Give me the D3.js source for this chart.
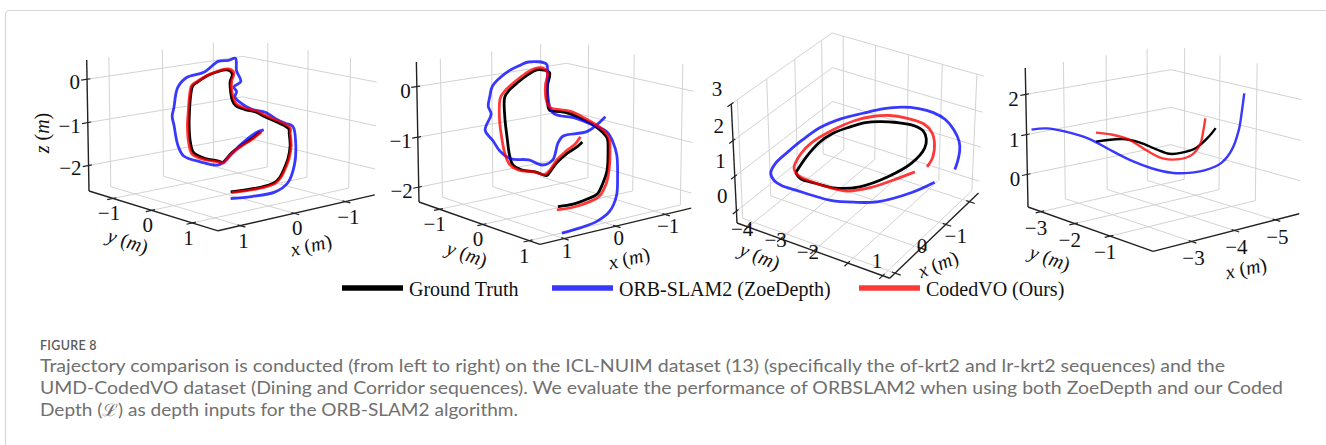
<!DOCTYPE html>
<html>
<head>
<meta charset="utf-8">
<script src="https://cdn.jsdelivr.net/npm/d3@7"></script>
<style>
  body { margin: 0; background: #fff; }
  svg { display: block; }
</style>
</head>
<body>
<svg id="fig" width="1326" height="445"></svg>
<script>
// ---------- data (metres) ----------
// panel 1 : ICL-NUIM of-kt2
const p1Truth = [[0.32,0.5,-2.33],[-0.25,0.5,-2.37],[-0.52,0.5,-2.33],[-0.63,0.5,-2.23],[-0.71,0.5,-2.06],[-0.79,0.5,-1.83],[-0.83,0.5,-1.54],[-0.81,0.5,-1.26],[-0.80,0.5,-1.14],[-0.70,0.5,-1.04],[-0.52,0.5,-0.90],[-0.33,0.5,-0.76],[-0.14,0.5,-0.61],[0.05,0.5,-0.52],[0.23,0.5,-0.39],[0.29,0.5,-0.26],[0.32,0.5,-0.07],[0.33,0.5,0.16],[0.29,0.5,0.33],[0.38,0.5,0.43],[0.70,0.5,0.39],[0.92,0.5,0.27],[1.01,0.5,0.20],[1.05,0.5,-0.01],[1.07,0.5,-0.30],[1.08,0.5,-0.66],[1.06,0.5,-1.02],[1.00,0.5,-1.28],[0.79,0.5,-1.46],[0.55,0.5,-1.57],[0.47,0.5,-1.62],[0.31,0.5,-1.45],[0.12,0.5,-1.32],[-0.06,0.5,-1.22],[-0.24,0.5,-1.09]];
const p1Orb = [[0.32,0.5,-2.48],[-0.08,0.5,-2.54],[-0.54,0.5,-2.55],[-0.79,0.5,-2.40],[-0.92,0.5,-2.00],[-0.94,0.5,-1.50],[-0.88,0.5,-1.10],[-0.73,0.5,-1.00],[-0.54,0.5,-0.85],[-0.35,0.5,-0.67],[-0.08,0.5,-0.54],[0.17,0.5,-0.31],[0.24,0.5,-0.20],[0.21,0.5,-0.08],[0.26,0.5,0.03],[0.13,0.5,0.13],[0.21,0.5,0.38],[0.23,0.5,0.66],[0.36,0.5,0.64],[0.55,0.5,0.65],[0.80,0.5,0.46],[1.12,0.5,0.40],[1.28,0.5,0.21],[1.35,0.5,-0.22],[1.38,0.5,-0.39],[1.35,0.5,-0.59],[1.28,0.5,-1.06],[1.18,0.5,-1.31],[0.88,0.5,-1.51],[0.55,0.5,-1.66],[0.36,0.5,-1.53],[0.11,0.5,-1.28],[-0.16,0.5,-1.09],[-0.31,0.5,-1.06]];
const p1Coded = [[0.30,0.5,-2.35],[-0.27,0.5,-2.39],[-0.54,0.5,-2.35],[-0.65,0.5,-2.24],[-0.73,0.5,-2.07],[-0.81,0.5,-1.84],[-0.85,0.5,-1.54],[-0.83,0.5,-1.25],[-0.83,0.5,-1.13],[-0.73,0.5,-1.02],[-0.54,0.5,-0.88],[-0.35,0.5,-0.74],[-0.16,0.5,-0.59],[0.03,0.5,-0.50],[0.21,0.5,-0.36],[0.26,0.5,-0.24],[0.30,0.5,-0.05],[0.30,0.5,0.17],[0.26,0.5,0.35],[0.36,0.5,0.45],[0.69,0.5,0.40],[0.93,0.5,0.28],[1.03,0.5,0.21],[1.07,0.5,0.00],[1.09,0.5,-0.29],[1.11,0.5,-0.66],[1.09,0.5,-1.03],[1.03,0.5,-1.30],[0.80,0.5,-1.48],[0.55,0.5,-1.59],[0.46,0.5,-1.64],[0.30,0.5,-1.46],[0.11,0.5,-1.33],[-0.08,0.5,-1.23],[-0.27,0.5,-1.09]];

// panel 2 : ICL-NUIM lr-kt2
const p2Truth = [[0.35,0.38,-2.09],[0.05,0.38,-2.11],[-0.23,0.38,-2.07],[-0.43,0.38,-2.02],[-0.55,0.38,-1.82],[-0.63,0.38,-1.60],[-0.65,0.38,-1.22],[-0.63,0.38,-0.95],[-0.53,0.38,-0.81],[-0.35,0.38,-0.64],[-0.15,0.38,-0.50],[0.11,0.38,-0.34],[0.31,0.38,-0.26],[0.51,0.38,-0.20],[0.55,0.38,-0.05],[0.55,0.38,0.27],[0.51,0.38,0.51],[0.61,0.38,0.57],[0.75,0.38,0.60],[0.91,0.38,0.54],[1.11,0.38,0.42],[1.27,0.38,0.30],[1.35,0.38,0.19],[1.35,0.38,-0.19],[1.31,0.38,-0.58],[1.27,0.38,-0.90],[1.21,0.38,-1.10],[1.05,0.38,-1.23],[0.77,0.38,-1.33],[0.57,0.38,-1.44],[0.51,0.38,-1.39],[0.37,0.38,-1.23],[0.17,0.38,-1.09],[-0.03,0.38,-1.00],[-0.13,0.38,-0.93]];
const p2Orb = [[0.27,0.38,-2.63],[-0.09,0.38,-2.61],[-0.43,0.38,-2.56],[-0.69,0.38,-2.42],[-0.83,0.38,-2.14],[-0.85,0.38,-1.76],[-0.83,0.38,-1.32],[-0.75,0.38,-1.05],[-0.63,0.38,-0.83],[-0.35,0.38,-0.64],[0.01,0.38,-0.44],[0.45,0.38,-0.26],[0.55,0.38,0.14],[0.55,0.38,0.52],[0.57,0.38,0.68],[0.91,0.38,0.77],[1.07,0.38,0.73],[1.31,0.38,0.64],[1.57,0.38,0.43],[1.62,0.38,0.25],[1.65,0.38,0.07],[1.60,0.38,-0.08],[1.71,0.38,-0.36],[1.57,0.38,-0.58],[1.45,0.38,-0.79],[1.25,0.38,-0.98],[0.91,0.38,-1.07],[0.65,0.38,-1.22],[0.45,0.38,-1.16],[0.35,0.38,-0.86],[0.25,0.38,-0.74],[-0.23,0.38,-0.74],[-0.59,0.38,-0.52]];
const p2Coded = [[0.37,0.38,-2.15],[0.05,0.38,-2.17],[-0.25,0.38,-2.14],[-0.47,0.38,-2.07],[-0.61,0.38,-1.86],[-0.67,0.38,-1.61],[-0.69,0.38,-1.22],[-0.67,0.38,-0.96],[-0.57,0.38,-0.80],[-0.39,0.38,-0.63],[-0.17,0.38,-0.47],[0.09,0.38,-0.30],[0.29,0.38,-0.23],[0.49,0.38,-0.16],[0.57,0.38,-0.01],[0.59,0.38,0.28],[0.55,0.38,0.52],[0.65,0.38,0.62],[0.79,0.38,0.63],[0.97,0.38,0.56],[1.17,0.38,0.44],[1.35,0.38,0.30],[1.43,0.38,0.19],[1.45,0.38,-0.17],[1.41,0.38,-0.56],[1.35,0.38,-0.88],[1.27,0.38,-1.08],[1.11,0.38,-1.22],[0.81,0.38,-1.32],[0.61,0.38,-1.41],[0.51,0.38,-1.35],[0.37,0.38,-1.18],[0.19,0.38,-1.04],[0.01,0.38,-0.94],[-0.09,0.38,-0.82]];

// panel 3 : UMD-CodedVO Dining
const p3Truth = [[0.64,-2.98,1.18],[0.01,-3.18,1.18],[-0.58,-3.29,1.18],[-1.04,-3.25,1.18],[-1.45,-3.05,1.18],[-1.78,-2.82,1.18],[-1.97,-2.54,1.18],[-2.13,-2.13,1.18],[-2.21,-1.65,1.18],[-2.12,-1.31,1.18],[-1.87,-1.04,1.18],[-1.54,-0.85,1.18],[-0.89,-0.76,1.18],[-0.20,-0.93,1.18],[0.41,-1.28,1.18],[0.70,-1.75,1.18],[0.76,-2.29,1.18],[0.77,-2.73,1.18],[0.64,-2.98,1.18]];
const p3Orb = [[-0.51,0.18,1.18],[0.05,-0.06,1.18],[0.69,-0.56,1.18],[0.94,-1.03,1.18],[1.12,-1.55,1.18],[1.16,-2.06,1.18],[1.17,-2.50,1.18],[1.18,-2.94,1.18],[1.11,-3.22,1.18],[0.91,-3.50,1.18],[0.56,-3.66,1.18],[0.06,-3.71,1.18],[-0.49,-3.73,1.18],[-1.11,-3.69,1.18],[-1.66,-3.47,1.18],[-2.09,-3.14,1.18],[-2.47,-2.82,1.18],[-2.75,-2.44,1.18],[-2.89,-2.01,1.18],[-2.90,-1.57,1.18],[-2.78,-1.12,1.18],[-2.50,-0.67,1.18],[-2.14,-0.26,1.18],[-1.83,-0.03,1.18],[-1.42,0.19,1.18],[-1.14,0.31,1.18]];
const p3Coded = [[-0.64,-0.48,1.18],[-0.17,-0.73,1.18],[0.33,-1.04,1.18],[0.68,-1.46,1.18],[0.75,-2.01,1.18],[0.75,-2.51,1.18],[0.70,-2.85,1.18],[0.51,-3.14,1.18],[-0.02,-3.38,1.18],[-0.50,-3.45,1.18],[-1.16,-3.34,1.18],[-1.76,-3.10,1.18],[-2.08,-2.83,1.18],[-2.30,-2.49,1.18],[-2.40,-2.03,1.18],[-2.38,-1.48,1.18],[-2.16,-1.08,1.18],[-1.87,-0.80,1.18],[-1.31,-0.45,1.18],[-0.93,-0.34,1.18]];

// panel 4 : UMD-CodedVO Corridor
const p4Truth = [[-2.48,-1.8,1.15],[-3.07,-1.8,1.09],[-3.47,-1.8,0.92],[-3.87,-1.8,0.66],[-4.18,-1.8,0.48],[-4.49,-1.8,0.44],[-4.82,-1.8,0.48],[-5.13,-1.8,0.69],[-5.32,-1.8,0.89]];
const p4Orb = [[-2.18,-3.3,1.14],[-2.37,-3.1,1.18],[-2.65,-2.9,1.09],[-2.99,-2.65,0.90],[-3.33,-2.4,0.58],[-3.64,-2.2,0.31],[-3.94,-2.0,0.11],[-4.23,-1.8,-0.01],[-4.49,-1.6,-0.02],[-4.77,-1.45,0.03],[-5.02,-1.3,0.20],[-5.18,-1.2,0.52],[-5.30,-1.15,1.00],[-5.33,-1.1,1.51],[-5.38,-1.1,1.92]];
const p4Coded = [[-2.48,-1.8,1.37],[-2.83,-1.8,1.25],[-3.23,-1.8,1.04],[-3.64,-1.8,0.68],[-4.02,-1.8,0.40],[-4.42,-1.8,0.29],[-4.73,-1.8,0.33],[-4.94,-1.8,0.57],[-5.01,-1.8,0.88],[-5.06,-1.8,1.19]];

// axis limits and ticks
const p1Lims = {x: [-1.6, 1.4], y: [-1.65, 1.6], z: [-2.6, 0.44]};
const p2Lims = {x: [-1.55, 1.45], y: [-1.5, 1.22], z: [-2.3, 0.48]};
const p3Lims = {x: [-2.4, 1.2], y: [-4.35, 0.2], z: [-0.35, 3.0]};
const p4Lims = {x: [-5.6, -2.14], y: [-3.4, 0.15], z: [-0.83, 2.65]};
const p1Ticks = {x: [-1, 0, 1], y: [-1, 0, 1], z: [-2, -1, 0]};
const p2Ticks = {x: [-1, 0, 1], y: [-1, 0, 1], z: [-2, -1, 0]};
const p3Ticks = {x: [1, 0, -1, -2], y: [-4, -3, -2, -1, 0], z: [0, 1, 2, 3]};
const p4Ticks = {x: [-5, -4, -3], y: [-3, -2, -1], z: [0, 1, 2]};

const seriesNames = ["Ground Truth", "ORB-SLAM2 (ZoeDepth)", "CodedVO (Ours)"];
const seriesColors = ["#000000", "#0000ff", "#ff0000"];
const seriesOpacity = [1, 0.78, 0.78];

const captionTitle = "FIGURE 8";
const captionLines = [
  "Trajectory comparison is conducted (from left to right) on the ICL-NUIM dataset (13) (specifically the of-krt2 and lr-krt2 sequences) and the",
  "UMD-CodedVO dataset (Dining and Corridor sequences). We evaluate the performance of ORBSLAM2 when using both ZoeDepth and our Coded",
  "Depth (\u2112) as depth inputs for the ORB-SLAM2 algorithm."
];

// ---------- layout of the four 3D boxes ----------
// off.* : pixel offset of tick labels (one pair for all ticks, or one per tick; null hides it)
const panels = [
  {lims: p1Lims, ticks: p1Ticks, series: [p1Truth, p1Orb, p1Coded], azim: 49, elev: 12,
   aspect: [4.62, 4.48, 3], anchor: [89, 191], zLen: 131, lw: 2.8,
   off: {x: [3, 15], y: [-4, 15], z: [-7, 3]},
   titles: {z: [42, 133, -90], y: [128, 241, 18], x: [311, 245, -13]}},
  {lims: p2Lims, ticks: p2Ticks, series: [p2Truth, p2Orb, p2Coded], azim: 50.2, elev: 13.1,
   aspect: [4.07, 4.02, 3], anchor: [419, 202], zLen: 140, lw: 2.8,
   off: {x: [3, 12], y: [-5, 15], z: [-6, 4]},
   titles: {y: [467, 254, 19], x: [629, 258, -13]}},
  {lims: p3Lims, ticks: p3Ticks, series: [p3Truth, p3Orb, p3Coded], azim: 32, elev: 31,
   aspect: [3.9, 3.92, 3], anchor: [737, 223], zLen: 119, lw: 2.8,
   off: {x: [[-18, -12], [1, -2], [10, 12], null], y: [[-6, 2], [-5, 1], [-6, 1], null, null], z: [-9, -15]},
   titles: {y: [760, 256, 22], x: [938, 264, -22]}},
  {lims: p4Lims, ticks: p4Ticks, series: [p4Truth, p4Orb, p4Coded], azim: 49.4, elev: 13.8,
   aspect: [4.0, 4.1, 3], anchor: [1028, 207], zLen: 139, lw: 2.4,
   off: {x: [2, 17], y: [-5, 16], z: [-7, 5]},
   titles: {y: [1050, 258, 19], x: [1246, 268, -12]}}
];

const serif = "'Liberation Serif', 'Times New Roman', serif";
const svg = d3.select('#fig');

// card frame
svg.append('rect')
  .attr('x', 5.5).attr('y', 10.5).attr('width', 1360).attr('height', 480).attr('rx', 4)
  .attr('fill', 'none').attr('stroke', '#d6d6d6').attr('stroke-width', 1.2);

// perspective camera like mpl_toolkits.mplot3d (eye at distance 10 from box centre)
function makeProjection(cfg) {
  const asp = cfg.aspect;
  const n = 1.8294640721620434 / Math.hypot(...asp);
  const box = asp.map(v => v * n);
  const sx = d3.scaleLinear().domain(cfg.lims.x).range([0, box[0]]);
  const sy = d3.scaleLinear().domain(cfg.lims.y).range([0, box[1]]);
  const sz = d3.scaleLinear().domain(cfg.lims.z).range([0, box[2]]);
  const az = cfg.azim * Math.PI / 180, el = cfg.elev * Math.PI / 180;
  const w = [Math.cos(el) * Math.cos(az), Math.cos(el) * Math.sin(az), Math.sin(el)];
  const u = [-Math.sin(az), Math.cos(az), 0];
  const v = [-Math.cos(az) * Math.sin(el), -Math.sin(az) * Math.sin(el), Math.cos(el)];
  const eye = box.map((b, i) => b / 2 + 10 * w[i]);
  const dot = (a, b) => a[0] * b[0] + a[1] * b[1] + a[2] * b[2];
  function raw(x, y, z) {
    const d = [sx(x) - eye[0], sy(y) - eye[1], sz(z) - eye[2]];
    const depth = -dot(d, w);
    return [dot(d, u) / depth, dot(d, v) / depth];
  }
  const [, xmax] = cfg.lims.x, [ymin] = cfg.lims.y, [zmin, zmax] = cfg.lims.z;
  const a0 = raw(xmax, ymin, zmin), a1 = raw(xmax, ymin, zmax);
  const k = cfg.zLen / (a1[1] - a0[1]);
  const px = d3.scaleLinear().domain([a0[0], a0[0] + 1]).range([cfg.anchor[0], cfg.anchor[0] + k]);
  const py = d3.scaleLinear().domain([a0[1], a0[1] + 1]).range([cfg.anchor[1], cfg.anchor[1] - k]);
  return (x, y, z) => { const r = raw(x, y, z); return [px(r[0]), py(r[1])]; };
}

const fmt = t => (t < 0 ? "\u2212" + Math.abs(t) : String(t));
const offsetFor = (o, i) => (Array.isArray(o[0]) || o[0] === null ? o[i] : o);

function drawPanel(cfg, idx) {
  const P = makeProjection(cfg);
  const g = svg.append('g').attr('class', 'panel' + (idx + 1));
  const [xmin, xmax] = cfg.lims.x, [ymin, ymax] = cfg.lims.y, [zmin, zmax] = cfg.lims.z;
  const dx = xmax - xmin, dy = ymax - ymin;
  const seg = d3.line();

  // grid on the back panes and the floor
  const grid = [];
  cfg.ticks.x.forEach(t => {
    grid.push([[t, ymin, zmin], [t, ymin, zmax]]);
    grid.push([[t, ymin, zmin], [t, ymax, zmin]]);
  });
  cfg.ticks.y.forEach(t => {
    grid.push([[xmin, t, zmin], [xmin, t, zmax]]);
    grid.push([[xmin, t, zmin], [xmax, t, zmin]]);
  });
  cfg.ticks.z.forEach(t => {
    grid.push([[xmax, ymin, t], [xmin, ymin, t]]);
    grid.push([[xmin, ymin, t], [xmin, ymax, t]]);
  });
  g.append('g').selectAll('path').data(grid).join('path')
    .attr('d', d => seg(d.map(p => P(...p))))
    .attr('stroke', '#d3d3d3').attr('stroke-width', 1).attr('fill', 'none');

  // axis lines
  const axes = [
    [[xmax, ymin, zmin], [xmax, ymin, zmax]],
    [[xmax, ymin, zmin], [xmax, ymax, zmin]],
    [[xmax, ymax, zmin], [xmin, ymax, zmin]]
  ];
  g.append('g').selectAll('path').data(axes).join('path')
    .attr('d', d => seg(d.map(p => P(...p))))
    .attr('stroke', '#222').attr('stroke-width', 1.4).attr('fill', 'none');

  // tick marks
  const tickSegs = [];
  cfg.ticks.x.forEach(t => tickSegs.push([[t, ymax - 0.02 * dy, zmin], [t, ymax + 0.035 * dy, zmin]]));
  cfg.ticks.y.forEach(t => tickSegs.push([[xmax - 0.02 * dx, t, zmin], [xmax + 0.035 * dx, t, zmin]]));
  cfg.ticks.z.forEach(t => tickSegs.push([[xmax - 0.02 * dx, ymin, t], [xmax + 0.035 * dx, ymin, t]]));
  g.append('g').selectAll('path').data(tickSegs).join('path')
    .attr('d', d => seg(d.map(p => P(...p))))
    .attr('stroke', '#222').attr('stroke-width', 1.2).attr('fill', 'none');

  // tick labels
  const labels = [];
  cfg.ticks.x.forEach((t, i) => labels.push({p: P(t, ymax, zmin), o: offsetFor(cfg.off.x, i), t, a: 'middle'}));
  cfg.ticks.y.forEach((t, i) => labels.push({p: P(xmax, t, zmin), o: offsetFor(cfg.off.y, i), t, a: 'middle'}));
  cfg.ticks.z.forEach((t, i) => labels.push({p: P(xmax, ymin, t), o: offsetFor(cfg.off.z, i), t, a: 'end'}));
  g.append('g').selectAll('text').data(labels.filter(d => d.o)).join('text')
    .attr('x', d => d.p[0] + d.o[0]).attr('y', d => d.p[1] + d.o[1])
    .attr('text-anchor', d => d.a).attr('dominant-baseline', 'central')
    .attr('font-family', serif).attr('font-size', 21).attr('fill', '#111')
    .text(d => fmt(d.t));

  // axis titles
  Object.entries(cfg.titles).forEach(([ax, [tx, ty, rot]]) => {
    const t = g.append('text')
      .attr('transform', `translate(${tx},${ty}) rotate(${rot})`)
      .attr('text-anchor', 'middle').attr('dominant-baseline', 'central')
      .attr('font-family', serif).attr('font-size', 20).attr('fill', '#111');
    t.append('tspan').attr('font-style', 'italic').text(ax);
    t.append('tspan').text(' (');
    t.append('tspan').attr('font-style', 'italic').text('m');
    t.append('tspan').text(')');
  });

  // trajectories
  const line = d3.line().curve(d3.curveCatmullRom.alpha(0.5));
  cfg.series.forEach((pts, i) => {
    g.append('path')
      .attr('d', line(pts.map(p => P(...p))))
      .attr('fill', 'none')
      .attr('stroke', seriesColors[i])
      .attr('stroke-opacity', seriesOpacity[i])
      .attr('stroke-width', cfg.lw)
      .attr('stroke-linejoin', 'round');
  });
}

panels.forEach(drawPanel);

// legend
const legendX = [342, 552, 859];
const leg = svg.append('g');
seriesNames.forEach((name, i) => {
  leg.append('line')
    .attr('x1', legendX[i]).attr('x2', legendX[i] + 61)
    .attr('y1', 288).attr('y2', 288)
    .attr('stroke', seriesColors[i]).attr('stroke-opacity', seriesOpacity[i])
    .attr('stroke-width', 5.5);
  leg.append('text')
    .attr('x', legendX[i] + 67).attr('y', 296)
    .attr('font-family', serif).attr('font-size', 20).attr('fill', '#111')
    .text(name);
});

// caption
svg.append('text')
  .attr('x', 40).attr('y', 350)
  .attr('font-family', 'Lato, "Open Sans", sans-serif').attr('font-size', 12.5)
  .attr('font-weight', 600).attr('fill', '#5a5a5a').attr('letter-spacing', 0.3)
  .text(captionTitle);
const capWidths = [1185, 1243, 478];
captionLines.forEach((txt, i) => {
  svg.append('text')
    .attr('x', 40).attr('y', 372 + i * 22)
    .attr('font-family', 'Lato, "Open Sans", sans-serif').attr('font-size', 17)
    .attr('fill', '#707070')
    .attr('textLength', capWidths[i]).attr('lengthAdjust', 'spacingAndGlyphs')
    .text(txt);
});
</script>
</body>
</html>
